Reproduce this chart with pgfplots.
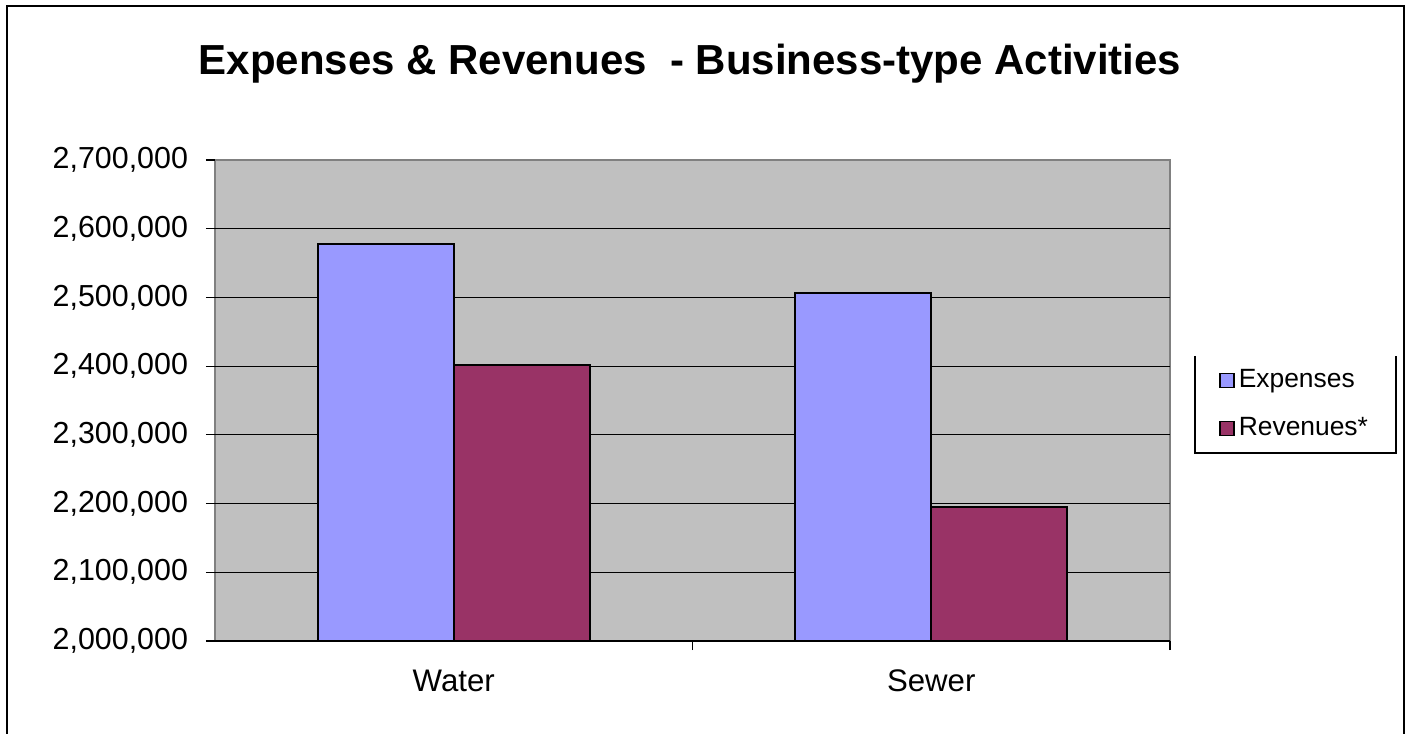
\documentclass[border=0pt]{standalone}
\usepackage{pgfplots}
\pgfplotsset{compat=1.18}
\usepackage{fontspec}
\setmainfont{Liberation Sans}
\definecolor{plotbg}{HTML}{C0C0C0}
\definecolor{expc}{HTML}{9999FF}
\definecolor{revc}{HTML}{993366}
\definecolor{frameg}{HTML}{808080}
\begin{document}
\begin{tikzpicture}
\path[use as bounding box] (0bp,0bp) rectangle (705.5bp,367bp);
\draw[line width=1.1bp] (3.5bp,0bp) -- (3.5bp,364bp) -- (702bp,364bp) -- (702bp,0bp);
\node[font=\bfseries\fontsize{21bp}{25bp}\selectfont] at (345bp,335bp) {Expenses \& Revenues\ \ - Business-type Activities};
\begin{axis}[
  at={(107.5bp,46.5bp)}, anchor=south west,
  scale only axis, width=477.5bp, height=240.5bp,
  ybar=0pt, bar width=68bp,
  xmin=-0.5, xmax=1.5,
  ymin=2000000, ymax=2700000,
  axis background/.style={fill=plotbg, draw=frameg, line width=0.8bp},
  axis line style={draw=none},
  ymajorgrids, grid style={black, line width=0.6bp},
  ytick={2000000,2100000,2200000,2300000,2400000,2500000,2600000},
  extra y ticks={2700000},
  extra y tick style={grid=none},
  xtick={0.5,1.5}, xticklabels={},
  extra x ticks={0,1}, extra x tick labels={Water,Sewer},
  extra x tick style={major tick length=0pt, grid=none},
  xtick pos=bottom, ytick pos=left,
  tick align=outside, major tick length=4.5bp,
  tick style={black, line width=0.6bp},
  scaled y ticks=false,
  /pgf/number format/.cd, fixed, precision=0, 1000 sep={,}, assume math mode=true, /pgfplots/.cd,
  yticklabel style={font=\fontsize{15.2bp}{18bp}\selectfont, xshift=-5.5bp},
  xticklabel style={font=\fontsize{15.6bp}{18bp}\selectfont, yshift=-11bp},
  legend style={at={(axis description cs:1.1314,0.4917)}, anchor=center, draw=none, fill=none,
    font=\fontsize{13.2bp}{15bp}\selectfont,
    nodes={inner sep=2bp, text height=10bp, text depth=3bp},
    row sep=7bp, column sep=0bp},
  legend cell align=left,
  legend image code/.code={\draw[#1, draw=black, line width=0.9bp] (0bp,-3.5bp) rectangle (7bp,3.5bp);},
]
\addplot[fill=expc, draw=black, line width=1.1bp] coordinates {(0,2577800) (1,2506400)};
\addplot[fill=revc, draw=black, line width=1.1bp] coordinates {(0,2401700) (1,2195000)};
\legend{Expenses,Revenues*}
\end{axis}
\draw[line width=0.8bp] (597.5bp,189bp) -- (597.5bp,140.5bp) -- (698bp,140.5bp) -- (698bp,189bp);
\end{tikzpicture}
\end{document}
